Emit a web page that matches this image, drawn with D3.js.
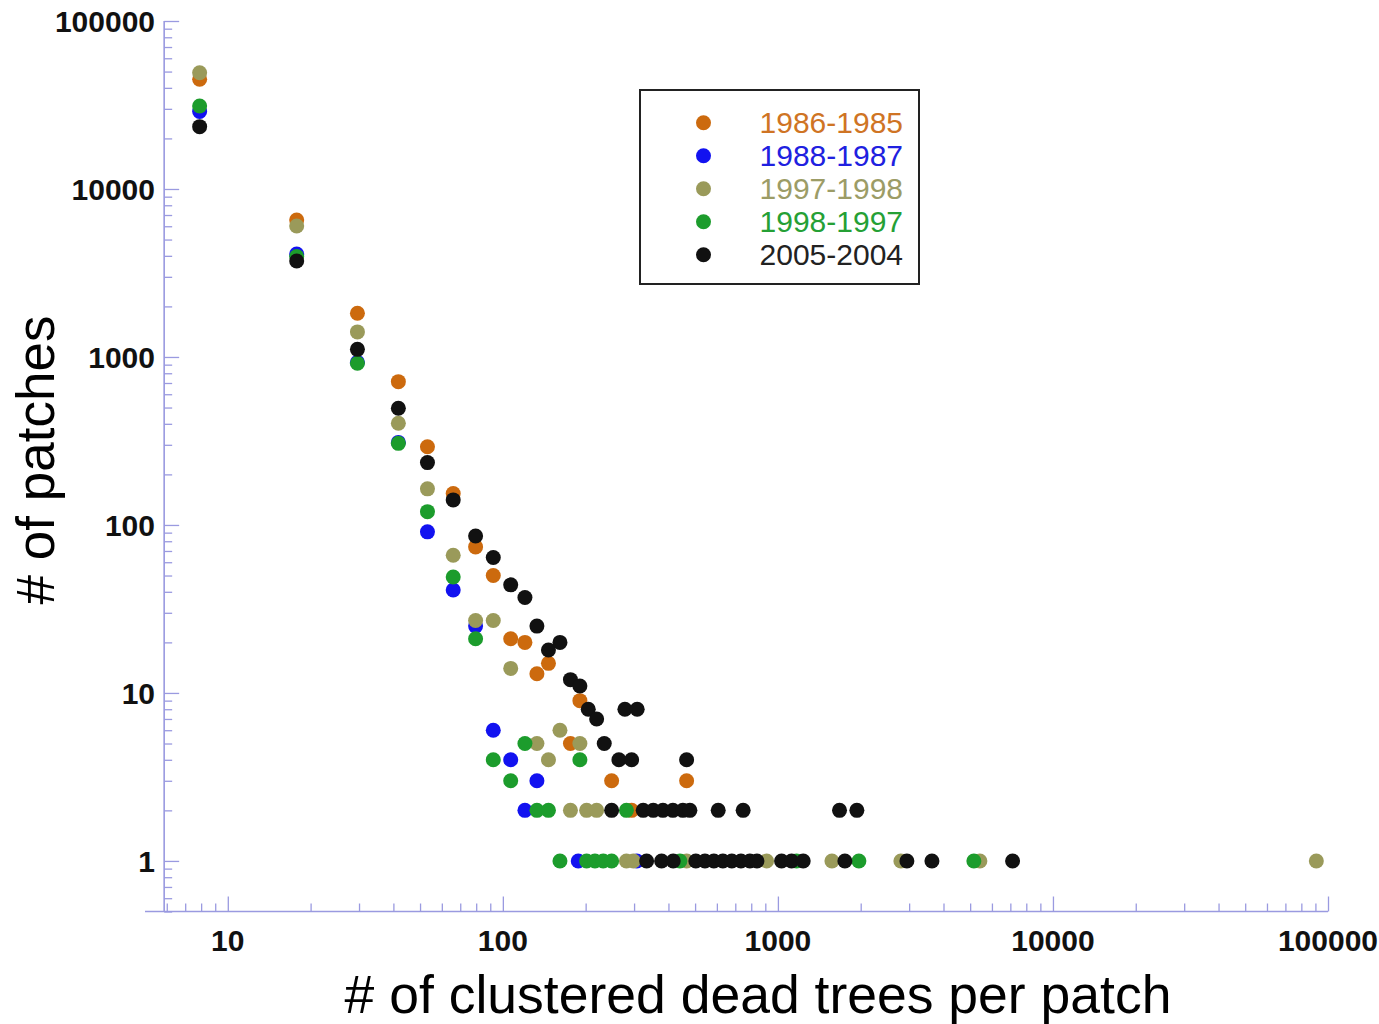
<!DOCTYPE html>
<html>
<head>
<meta charset="utf-8">
<script src="https://cdn.jsdelivr.net/npm/d3@7"></script>
<style>
  html, body { margin: 0; padding: 0; background: #fff; }
  svg { display: block; }
  text { font-family: "Liberation Sans", Arial, Helvetica, sans-serif; }
</style>
</head>
<body>
<svg id="chart" width="1379" height="1024"></svg>
<script>
// Patch-size distributions: [# of clustered dead trees per patch, # of patches]
const s1986_1985 = [[7.9,45000],[17.8,6540],[29.6,1820],[41.7,713],[53.2,292],[66,154],[79.6,74],[92.3,50],
  [106.8,21],[120.3,20],[133,13],[146.5,15],[176.1,5],[190.6,9],[248.6,3],[293.9,2],[465.7,3]];
const s1988_1987 = [[7.9,28900],[17.8,4100],[29.6,930],[41.7,310],[53.2,91],[66,41],[79.6,25],[92.3,6],
  [106.8,4],[133,3],[120.3,2],[188,1],[307,1]];
const s1997_1998 = [[7.9,49200],[17.8,6020],[29.6,1410],[41.7,403],[53.2,164],[66,66],[79.6,27],[92.3,27],
  [106.8,14],[133,5],[146.5,4],[161.3,6],[190.6,5],[176.1,2],[201.6,2],[219.3,2],[281.4,1],[298.3,1],
  [465.7,1],[909.8,1],[1572,1],[2800,1],[5424,1],[90700,1]];
const s1998_1997 = [[7.9,31200],[17.8,3960],[29.6,917],[41.7,306],[53.2,120],[66,49],[79.6,21],[92.3,4],
  [106.8,3],[120.3,5],[190.6,4],[133,2],[146.5,2],[281.4,2],[161.3,1],[201.6,1],[216.2,1],[231.7,1],
  [248.6,1],[440.3,1],[1169,1],[1970,1],[5158,1]];
const s2005_2004 = [[7.9,23500],[17.8,3730],[29.6,1110],[41.7,495],[53.2,235],[66,141],[79.6,86],[92.3,64],
  [106.8,44],[120.3,37],[133,25],[146.5,18],[161.3,20],[176.1,12],[190.6,11],[204.4,8],[219.3,7],[233.7,5],
  [264.2,4],[293.9,4],[465.7,4],[277.8,8],[307.9,8],
  [248.6,2],[323.8,2],[352.2,2],[381.9,2],[415.2,2],[451.4,2],[478.6,2],[606.7,2],[747.6,2],[1675,2],[1937,2],
  [333.2,1],[377.7,1],[416.3,1],[503,1],[543,1],[585,1],[631,1],[680,1],[734,1],[791,1],[839,1],
  [1031,1],[1121,1],[1236,1],[1752,1],[2944,1],[3631,1],[7133,1]];

const seriesNames = ["1986-1985", "1988-1987", "1997-1998", "1998-1997", "2005-2004"];
const seriesData = [s1986_1985, s1988_1987, s1997_1998, s1998_1997, s2005_2004];
const seriesColors = ["#cc6a0e", "#1212f0", "#9a9a5a", "#1c9c2c", "#111111"];
const legendTextColors = ["#cf7424", "#2020e0", "#9c9c66", "#25a035", "#222222"];

const xTickValues = [10, 100, 1000, 10000, 100000];
const xTickLabels = ["10", "100", "1000", "10000", "100000"];
const yTickValues = [1, 10, 100, 1000, 10000, 100000];
const yTickLabels = ["1", "10", "100", "1000", "10000", "100000"];

const svg = d3.select("#chart");
const axisColor = "#9a9ae0";

const x = d3.scaleLog().domain([5, 100000]).range([145, 1328]);
const y = d3.scaleLog().domain([0.5, 100000]).range([911.5, 21]);
const yAxisAt = 5.87;   // the vertical axis crosses the horizontal one here

// minor tick positions: 1..9 times each decade inside the domain
function minorTicks(scale) {
  const [a, b] = scale.domain();
  const out = [];
  for (let e = Math.floor(Math.log10(a)); e <= Math.ceil(Math.log10(b)); e++) {
    for (let m = 1; m <= 9; m++) {
      const v = m * Math.pow(10, e);
      if (v >= a * 0.999 && v <= b * 1.001) out.push(v);
    }
  }
  return out;
}
const isMajor = v => Math.abs(Math.log10(v) - Math.round(Math.log10(v))) < 1e-9;

// horizontal axis: ticks point up, labels below
const xAxis = d3.axisBottom(x)
  .tickValues(minorTicks(x))
  .tickSize(0)
  .tickFormat("");
const gx = svg.append("g").attr("transform", `translate(0,${y(0.5)})`).call(xAxis);
gx.select(".domain").attr("stroke", axisColor).attr("stroke-width", 1.6).attr("d", `M${x(5)},0H${x(100000)}`);
gx.selectAll(".tick line")
  .attr("stroke", axisColor).attr("stroke-width", 1.3)
  .attr("y2", d => isMajor(d) ? -15 : -8);
gx.selectAll(".tick")
  .filter(d => x(d) <= x(yAxisAt) + 1)
  .remove();

svg.append("g").selectAll("text")
  .data(xTickValues)
  .join("text")
  .attr("x", d => x(d))
  .attr("y", 951)
  .attr("text-anchor", "middle")
  .attr("font-size", 30)
  .attr("font-weight", "bold")
  .attr("fill", "#111")
  .text((d, i) => xTickLabels[i]);

// vertical axis: ticks point right, labels to the left
const yAxis = d3.axisRight(y)
  .tickValues(minorTicks(y))
  .tickSize(0)
  .tickFormat("");
const gy = svg.append("g").attr("transform", `translate(${x(yAxisAt)},0)`).call(yAxis);
gy.select(".domain").attr("stroke", axisColor).attr("stroke-width", 1.6).attr("d", `M0,${y(100000)}V${y(0.5)}`);
gy.selectAll(".tick line")
  .attr("stroke", axisColor).attr("stroke-width", 1.3)
  .attr("x2", d => isMajor(d) ? 15 : 8);

svg.append("g").selectAll("text")
  .data(yTickValues)
  .join("text")
  .attr("x", 155)
  .attr("y", d => y(d) + 11)
  .attr("text-anchor", "end")
  .attr("font-size", 30)
  .attr("font-weight", "bold")
  .attr("fill", "#111")
  .text((d, i) => yTickLabels[i]);

// axis titles
svg.append("text")
  .attr("x", 758).attr("y", 1013)
  .attr("text-anchor", "middle")
  .attr("font-size", 53.5)
  .attr("fill", "#000")
  .text("# of clustered dead trees per patch");

svg.append("text")
  .attr("transform", "translate(54,460) rotate(-90)")
  .attr("text-anchor", "middle")
  .attr("font-size", 53)
  .attr("fill", "#000")
  .text("# of patches");

// points, one layer per period, later periods drawn on top
const points = svg.append("g");
seriesData.forEach((data, i) => {
  points.append("g")
    .selectAll("circle")
    .data(data)
    .join("circle")
    .attr("cx", d => x(d[0]))
    .attr("cy", d => y(d[1]))
    .attr("r", 7.5)
    .attr("fill", seriesColors[i]);
});

// legend
const legend = svg.append("g");
legend.append("rect")
  .attr("x", 640).attr("y", 90)
  .attr("width", 279).attr("height", 194)
  .attr("fill", "#fff")
  .attr("stroke", "#222").attr("stroke-width", 2);
const items = legend.selectAll("g.item")
  .data(seriesNames)
  .join("g")
  .attr("class", "item")
  .attr("transform", (d, i) => `translate(0,${122.7 + i * 33})`);
items.append("circle")
  .attr("cx", 703.5).attr("cy", 0).attr("r", 7.5)
  .attr("fill", (d, i) => seriesColors[i]);
items.append("text")
  .attr("x", 903).attr("y", 10.5)
  .attr("text-anchor", "end")
  .attr("font-size", 30)
  .attr("fill", (d, i) => legendTextColors[i])
  .text(d => d);
</script>
</body>
</html>
